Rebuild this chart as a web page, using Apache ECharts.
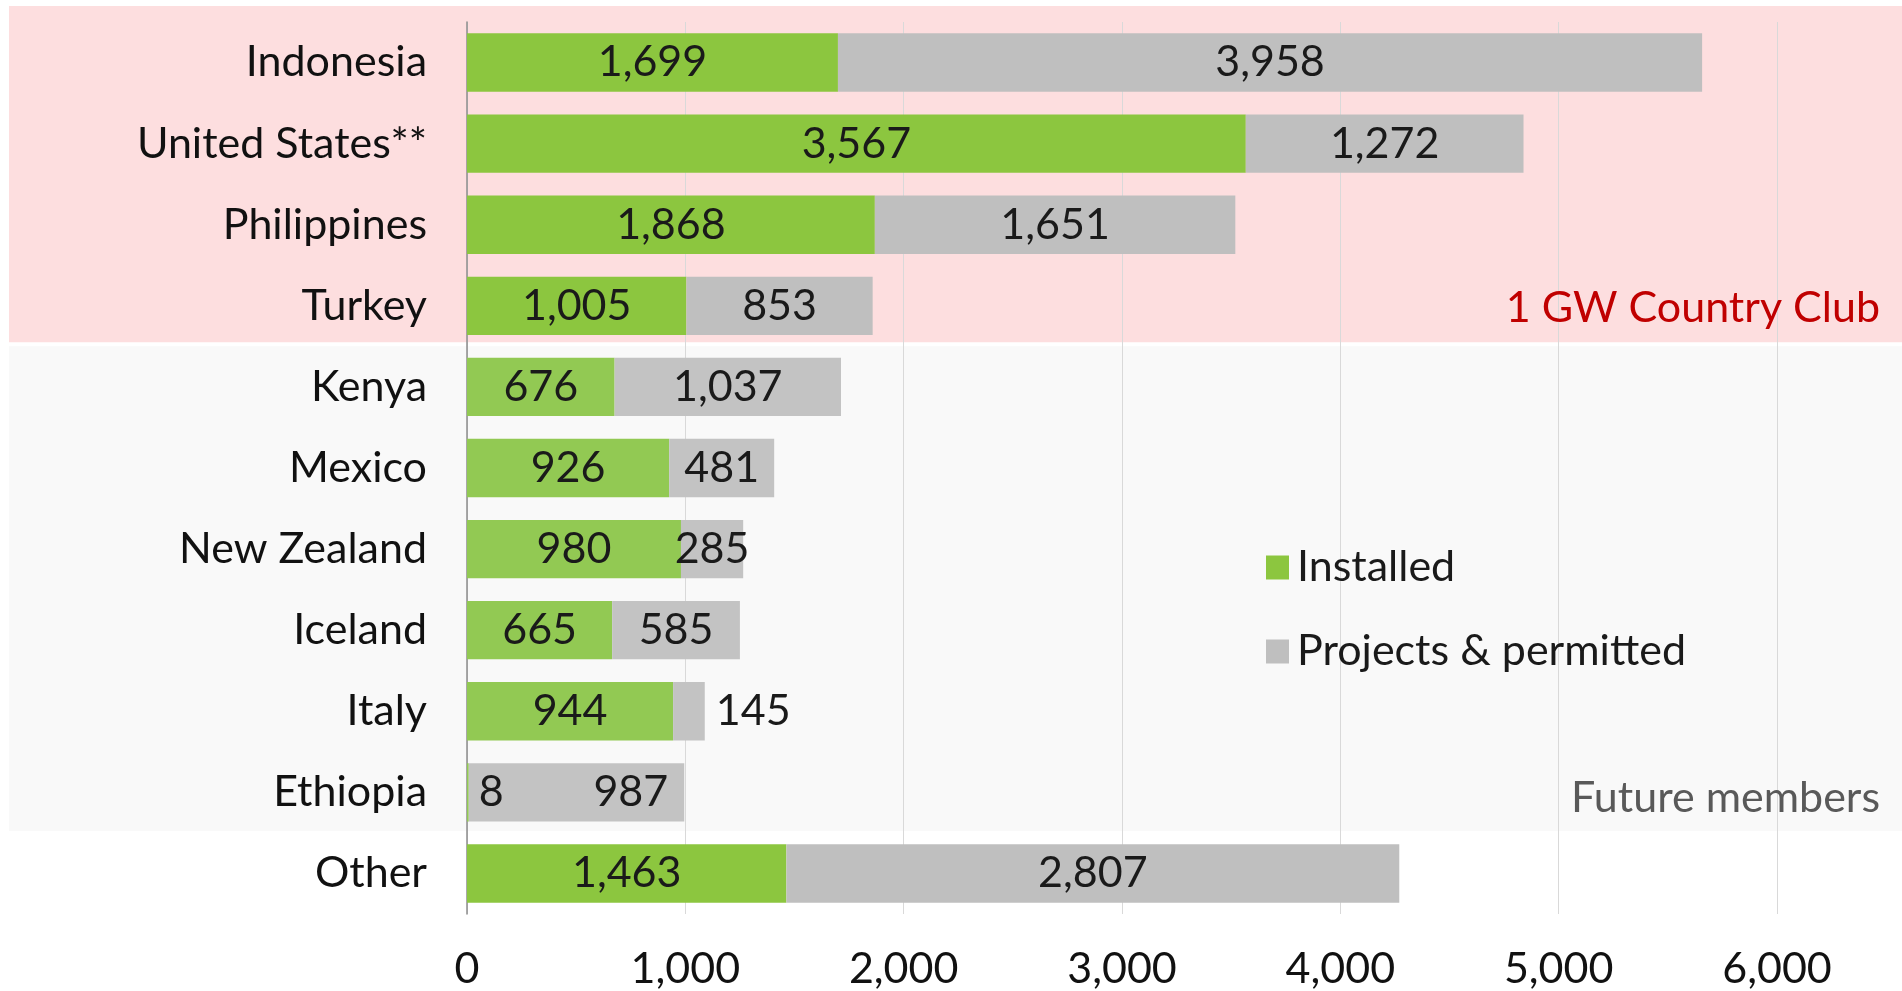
<!DOCTYPE html>
<html>
<head>
<meta charset="utf-8">
<script src="https://cdn.jsdelivr.net/npm/echarts@6/dist/echarts.min.js"></script>
<style>
  html, body { margin: 0; padding: 0; background: #fff; }
  #chart { width: 1902px; height: 991px; }
</style>
</head>
<body>
<div id="chart"></div>
<script>
// countries, top to bottom
const categories = ['Indonesia', 'United States**', 'Philippines', 'Turkey', 'Kenya', 'Mexico',
  'New Zealand', 'Iceland', 'Italy', 'Ethiopia', 'Other'];
// MW
const installed = [1699, 3567, 1868, 1005, 676, 926, 980, 665, 944, 8, 1463];
const projects = [3958, 1272, 1651, 853, 1037, 481, 285, 585, 145, 987, 2807];
const xTicks = [0, 1000, 2000, 3000, 4000, 5000, 6000];

const FONT = 'Lato';
const FS = 43;
const fmt = v => Number(v).toLocaleString('en-US');

// rows sitting in the grey "future members" band are a little lighter
const isFuture = i => i >= 4 && i <= 9;

const chart = echarts.init(document.getElementById('chart'), null, { renderer: 'canvas' });

const option = {
  animation: false,
  backgroundColor: '#fff',
  textStyle: { fontFamily: FONT },
  grid: { left: 467, right: 125, top: 22, bottom: 76 },
  legend: {
    data: ['Installed', 'Projects & permitted'],
    orient: 'vertical',
    left: 1266,
    top: 546,
    padding: 0,
    itemWidth: 23,
    itemHeight: 24,
    itemGap: 41,
    icon: 'rect',
    textStyle: { fontFamily: FONT, fontSize: FS, color: '#1a1a1a', lineHeight: 43, padding: [0, 0, 0, 3] }
  },
  xAxis: {
    type: 'value',
    min: xTicks[0],
    max: xTicks[xTicks.length - 1],
    interval: 1000,
    axisLine: { show: false },
    axisTick: { show: false },
    splitLine: { lineStyle: { color: '#d9d9d9', width: 1 } },
    axisLabel: { fontFamily: FONT, fontSize: FS, color: '#111', margin: 34, formatter: fmt }
  },
  yAxis: {
    type: 'category',
    inverse: true,
    data: categories,
    axisLine: { lineStyle: { color: '#8c8c8c', width: 1.5 } },
    axisTick: { length: 13, lineStyle: { color: '#8c8c8c', width: 1.5 } },
    axisLabel: { fontFamily: FONT, fontSize: FS, color: '#111', margin: 40 }
  },
  series: [
    {
      name: 'Installed',
      type: 'bar',
      stack: 'total',
      barCategoryGap: '28%',
      itemStyle: { color: '#8cc63f' },
      label: {
        show: true, position: 'inside', fontFamily: FONT, fontSize: FS, color: '#1a1a1a',
        formatter: p => fmt(p.value)
      },
      data: installed.map((v, i) => ({
        value: v,
        itemStyle: { color: isFuture(i) ? '#92c953' : '#8cc63f' },
        // Ethiopia's installed bar is too thin to hold its label
        label: v < 100 ? { position: 'right', distance: 10 } : undefined
      }))
    },
    {
      name: 'Projects & permitted',
      type: 'bar',
      stack: 'total',
      barCategoryGap: '28%',
      itemStyle: { color: '#bfbfbf' },
      label: {
        show: true, position: 'inside', fontFamily: FONT, fontSize: FS, color: '#1a1a1a',
        formatter: p => fmt(p.value)
      },
      data: projects.map((v, i) => {
        let label;
        if (v < 200) label = { position: 'right', distance: 11 };
        else if (installed[i] < 100) label = { position: 'insideRight', distance: 16 };
        return {
          value: v,
          itemStyle: { color: isFuture(i) ? '#c3c3c3' : '#bfbfbf' },
          label
        };
      })
    }
  ]
};

chart.setOption(option);

// background bands: pink = 1 GW club, grey = future members
const bandTop = chart.convertToPixel({ yAxisIndex: 0 }, 0);
const step = chart.convertToPixel({ yAxisIndex: 0 }, 1) - bandTop;
const edge = k => bandTop - step / 2 + k * step;

chart.setOption({
  graphic: [
    {
      type: 'rect', z: -10, silent: true,
      shape: { x: 9, y: edge(0) - 16, width: 1902 - 9, height: edge(4) - 4 - (edge(0) - 16) },
      style: { fill: '#fddedf' }
    },
    {
      type: 'rect', z: -10, silent: true,
      shape: { x: 9, y: edge(4) + 0, width: 1902 - 9, height: edge(10) - 2 - edge(4) },
      style: { fill: '#f9f9f9' }
    },
    {
      type: 'text', z: 10,
      style: {
        text: '1 GW Country Club', x: 1880, y: 308, align: 'right', verticalAlign: 'middle',
        fontFamily: FONT, fontSize: FS, fill: '#c00000'
      }
    },
    {
      type: 'text', z: 10,
      style: {
        text: 'Future members', x: 1880, y: 798, align: 'right', verticalAlign: 'middle',
        fontFamily: FONT, fontSize: FS, fill: '#595959'
      }
    }
  ]
});
</script>
</body>
</html>
